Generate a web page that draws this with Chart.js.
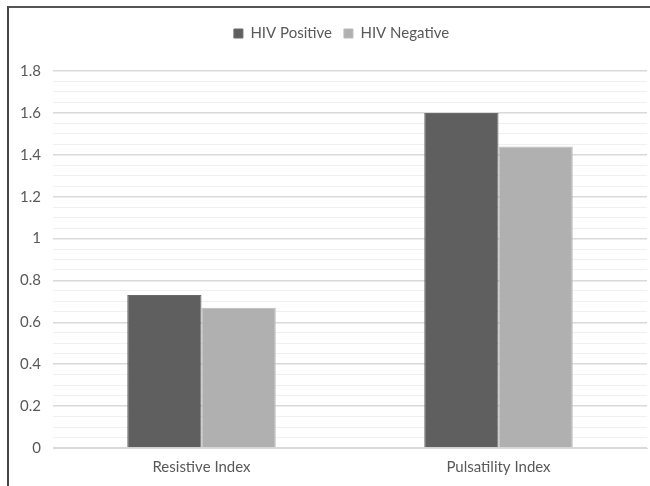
<!DOCTYPE html>
<html>
<head>
<meta charset="utf-8">
<script src="https://cdn.jsdelivr.net/npm/chart.js@4"></script>
<style>
    html, body { margin: 0; padding: 0; background: #ffffff; overflow: hidden; }
    #frame {
        position: absolute; left: 7px; top: 6px; width: 700px; height: 600px;
        border-top: 2px solid #555555; border-left: 2px solid #444444;
    }
    #wrap { position: absolute; left: 0; top: 0; width: 650px; height: 486px; }
</style>
</head>
<body>
<div id="frame"></div>
<div id="wrap"><canvas id="rindexChart"></canvas></div>
<script>
const categories = ["Resistive Index", "Pulsatility Index"];
const hivPositive = [0.73, 1.6];
const hivNegative = [0.67, 1.44];
const yTicks = [0, 0.2, 0.4, 0.6, 0.8, 1, 1.2, 1.4, 1.6, 1.8];

const textColor = "#595959";
const fontFamily = "Lato, 'Open Sans', sans-serif";

function isMajor(v) {
    return yTicks.some(t => Math.abs(t - v) < 1e-6);
}

// legend sits a bit right of centre and leaves extra room above the plot
const legendTweak = {
    id: "legendTweak",
    beforeLayout(chart) {
        const lg = chart.legend;
        if (lg && !lg._tweaked) {
            const fit = lg.fit.bind(lg);
            lg.fit = function () { fit(); this.height += 20; };
            lg._tweaked = true;
        }
    },
    afterLayout(chart) {
        chart.legend.left += 18;
        chart.legend.right += 18;
    }
};

new Chart(document.getElementById("rindexChart"), {
    type: "bar",
    data: {
        labels: categories,
        datasets: [{
            label: "HIV Positive",
            data: hivPositive,
            backgroundColor: "#5f5f5f",
            borderColor: "#6a6a6a",
            borderWidth: 1,
            categoryPercentage: 0.5,
            barPercentage: 1.0
        }, {
            label: "HIV Negative",
            data: hivNegative,
            backgroundColor: "#b0b0b0",
            borderColor: "#bababa",
            borderWidth: 1,
            categoryPercentage: 0.5,
            barPercentage: 1.0
        }]
    },
    options: {
        responsive: true,
        maintainAspectRatio: false,
        animation: false,
        layout: { padding: { top: 14, right: 3, left: 0, bottom: 0 } },
        plugins: {
            legend: {
                position: "top",
                labels: {
                    color: textColor,
                    font: { family: fontFamily, size: 15 },
                    boxWidth: 9,
                    boxHeight: 9,
                    padding: 12
                }
            },
            tooltip: { enabled: false }
        },
        scales: {
            x: {
                grid: { display: false, drawTicks: false },
                border: { display: true, color: "#d9d9d9", width: 1 },
                ticks: {
                    color: textColor,
                    font: { family: fontFamily, size: 15 },
                    padding: 10
                },
                afterFit: s => { s.height = 38; }
            },
            y: {
                min: 0,
                max: 1.8,
                border: { display: false },
                grid: {
                    drawTicks: false,
                    color: ctx => isMajor(ctx.tick.value) ? "#d9d9d9" : "#f0f0f0",
                    lineWidth: ctx => isMajor(ctx.tick.value) ? 1.5 : 1
                },
                ticks: {
                    stepSize: 0.05,
                    maxTicksLimit: 100,
                    autoSkip: false,
                    color: textColor,
                    font: { family: fontFamily, size: 15 },
                    padding: 12,
                    callback: v => isMajor(v) ? String(Math.round(v * 10) / 10) : ""
                },
                afterFit: s => { s.width = 53; }
            }
        }
    },
    plugins: [legendTweak]
});
</script>
</body>
</html>
